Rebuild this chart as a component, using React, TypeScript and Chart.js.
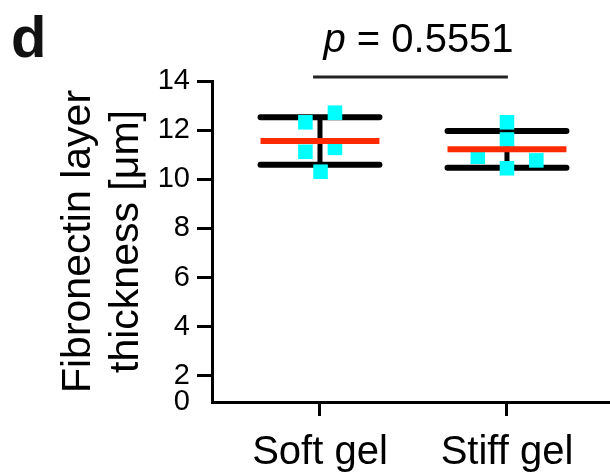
import React, { useEffect, useRef } from 'react';
import { Chart, registerables } from 'chart.js';

Chart.register(...registerables);

// ---- data ----
const categories = ['Soft gel', 'Stiff gel'];
const softValues = [12.32, 12.71, 11.12, 11.28, 10.31];
const softJitter = [-0.078, 0.08, -0.078, 0.08, 0.003];
const stiffValues = [12.32, 11.62, 10.92, 10.77, 10.45];
const stiffJitter = [0, 0, -0.156, 0.157, 0];
const means = [11.56, 11.22];
const sds = [0.97, 0.75];
const yTicks = [0, 2, 4, 6, 8, 10, 12, 14];
const yTitle = ['Fibronectin layer', 'thickness [\u03bcm]'];
const pText = '0.5551';
const panelLabel = 'd';

const FONT = "'Liberation Sans', Arial, Helvetica, sans-serif";
const Y_MIN = 0.94;
const Y_MAX = 14;
const X_MIN = 0.4225;
const X_MAX = 2.551;
const HALF = 0.318;

function buildLineData(kind: 'mean' | 'sd' | 'bar') {
  const out: any[] = [];
  categories.forEach((_, i) => {
    const c = i + 1;
    const m = means[i];
    const s = sds[i];
    if (kind === 'mean') {
      out.push({ x: c - HALF, y: m }, { x: c + HALF, y: m });
    } else if (kind === 'sd') {
      out.push({ x: c - HALF, y: m + s }, { x: c + HALF, y: m + s }, { x: c, y: null });
      out.push({ x: c - HALF, y: m - s }, { x: c + HALF, y: m - s });
    } else {
      out.push({ x: c, y: m + s }, { x: c, y: m - s });
    }
    out.push({ x: c + 0.5, y: null });
  });
  return out;
}

function buildPoints() {
  const pts: any[] = [];
  softValues.forEach((v, j) => pts.push({ x: 1 + softJitter[j], y: v }));
  stiffValues.forEach((v, j) => pts.push({ x: 2 + stiffJitter[j], y: v }));
  return pts;
}

const annotPlugin = {
  id: 'annot',
  afterDraw(chart: any) {
    const { ctx } = chart;
    const x = chart.scales.x;
    const y = chart.scales.y;
    ctx.save();
    // significance bar
    const yb = y.getPixelForValue(14.16);
    ctx.strokeStyle = '#222';
    ctx.lineWidth = 3;
    ctx.beginPath();
    ctx.moveTo(x.getPixelForValue(0.963), yb);
    ctx.lineTo(x.getPixelForValue(2.005), yb);
    ctx.stroke();
    // p value text
    ctx.fillStyle = '#000';
    ctx.textBaseline = 'alphabetic';
    ctx.textAlign = 'left';
    const fItal = `italic 40px ${FONT}`;
    const fNorm = `40px ${FONT}`;
    ctx.font = fItal;
    const w1 = ctx.measureText('p').width;
    ctx.font = fNorm;
    const rest = ' = ' + pText;
    const w2 = ctx.measureText(rest).width;
    const cx = x.getPixelForValue(1.527);
    const x0 = cx - (w1 + w2) / 2;
    const base = 52;
    ctx.font = fItal;
    ctx.fillText('p', x0, base);
    ctx.font = fNorm;
    ctx.fillText(rest, x0 + w1, base);
    // panel letter
    ctx.font = `bold 58px ${FONT}`;
    ctx.fillStyle = '#111';
    ctx.fillText(panelLabel, 11, 57);
    ctx.restore();
  },
};

export default function App() {
  const ref = useRef<HTMLCanvasElement>(null);
  useEffect(() => {
    if (!ref.current) return;
    const chart = new Chart(ref.current, {
      type: 'line',
      data: {
        datasets: [
          {
            label: 'mean',
            data: buildLineData('mean'),
            borderColor: '#ff2a00',
            borderWidth: 6,
            borderCapStyle: 'butt',
            pointRadius: 0,
            spanGaps: false,
            order: 0,
          } as any,
          {
            label: 'points',
            data: buildPoints(),
            showLine: false,
            pointStyle: 'rect',
            pointRadius: 10.3,
            pointBackgroundColor: '#00ffff',
            pointBorderWidth: 0,
            borderWidth: 0,
            order: 1,
          } as any,
          {
            label: 'sd',
            data: buildLineData('sd'),
            borderColor: '#000',
            borderWidth: 6,
            borderCapStyle: 'round',
            pointRadius: 0,
            spanGaps: false,
            order: 2,
          } as any,
          {
            label: 'bar',
            data: buildLineData('bar'),
            borderColor: '#000',
            borderWidth: 5,
            pointRadius: 0,
            spanGaps: false,
            order: 3,
          } as any,
        ],
      },
      options: {
        animation: false,
        responsive: false,
        events: [],
        layout: { autoPadding: false, padding: { top: 81, left: 0, right: 0, bottom: 0 } },
        plugins: { legend: { display: false }, tooltip: { enabled: false }, title: { display: false } },
        scales: {
          x: {
            type: 'linear',
            min: X_MIN,
            max: X_MAX,
            afterBuildTicks: (s: any) => {
              s.ticks = categories.map((_, i) => ({ value: i + 1 }));
            },
            afterFit: (s: any) => {
              s.height = 72;
            },
            ticks: {
              autoSkip: false,
              maxRotation: 0,
              padding: 13,
              color: '#000',
              font: { family: FONT, size: 40 },
              callback: (_v: any, i: number) => categories[i],
            },
            grid: { drawOnChartArea: false, drawTicks: true, tickLength: 14, lineWidth: 3, color: '#000' },
            border: { display: true, width: 3, color: '#000' },
          },
          y: {
            type: 'linear',
            min: Y_MIN,
            max: Y_MAX,
            afterBuildTicks: (s: any) => {
              s.ticks = yTicks.map((v) => ({ value: Math.max(v, Y_MIN) }));
            },
            afterFit: (s: any) => {
              s.width = 212;
            },
            ticks: {
              autoSkip: false,
              padding: 7,
              color: '#000',
              font: { family: FONT, size: 29 },
              callback: (_v: any, i: number) => String(yTicks[i]),
            },
            grid: {
              drawOnChartArea: false,
              drawTicks: true,
              tickLength: 15,
              lineWidth: 3,
              color: (c: any) => (c.index === 0 ? 'rgba(0,0,0,0)' : '#000'),
            },
            border: { display: true, width: 3, color: '#000' },
            title: {
              display: true,
              text: yTitle,
              color: '#000',
              font: { family: FONT, size: 41, lineHeight: 1.17 },
              padding: { top: 55, bottom: 0 },
            },
          },
        },
      },
      plugins: [annotPlugin],
    } as any);
    return () => chart.destroy();
  }, []);
  return (
    <div style={{ position: 'absolute', left: 0, top: 0, width: 610, height: 474, background: '#fff' }}>
      <canvas ref={ref} width={610} height={474} />
    </div>
  );
}
